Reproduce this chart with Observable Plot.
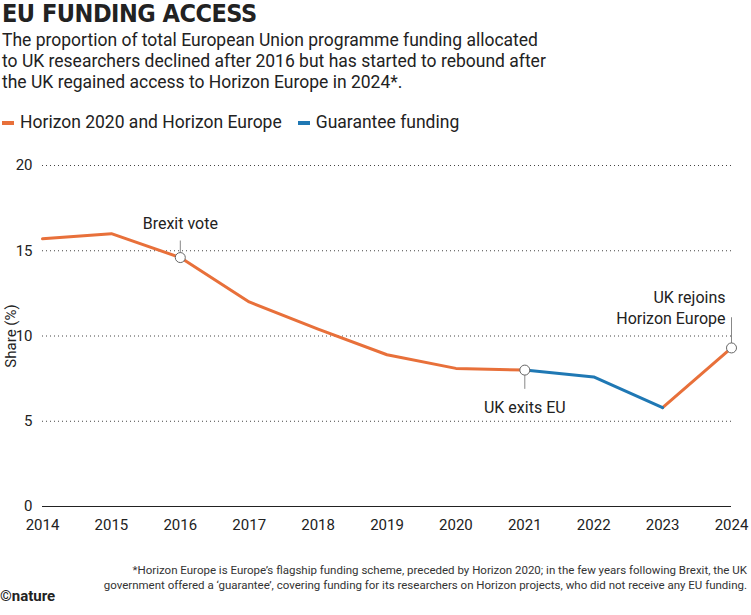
<!DOCTYPE html>
<html><head>
<script src="https://cdn.jsdelivr.net/npm/d3@7"></script>
<script src="https://cdn.jsdelivr.net/npm/@observablehq/plot@0.6"></script>
<style>
body{margin:0;font-family:Roboto,"Noto Sans",sans-serif;color:#222;width:751px;}
h1{font-family:"DejaVu Sans Condensed","Roboto",sans-serif;font-weight:900;font-size:25px;margin:0;padding:0 0 0 2px;letter-spacing:-0.5px;line-height:28px;}
.sub{font-size:17.5px;line-height:21px;margin:2px 0 0 2px;}
.leg{font-size:17.5px;margin:19px 0 0 2px;display:flex;gap:16px;align-items:center;}
.leg span.sw{display:inline-block;width:12px;height:4px;margin-right:6px;vertical-align:middle;}
.foot{font-size:11.5px;text-align:right;line-height:15px;margin:22px 4px 0 0;color:#333;}
.logo{font-size:15px;font-weight:bold;margin:-6px 0 0 0;}
</style></head><body>
<h1>EU FUNDING ACCESS</h1>
<div class="sub">The proportion of total European Union programme funding allocated<br>to UK researchers declined after 2016 but has started to rebound after<br>the UK regained access to Horizon Europe in 2024*.</div>
<div class="leg"><div><span class="sw" style="background:#e8703a"></span>Horizon 2020 and Horizon Europe</div><div><span class="sw" style="background:#1f78b4"></span>Guarantee funding</div></div>
<div id="chart"></div>
<div class="foot">*Horizon Europe is Europe’s flagship funding scheme, preceded by Horizon 2020; in the few years following Brexit, the UK<br>government offered a ‘guarantee’, covering funding for its researchers on Horizon projects, who did not receive any EU funding.</div>
<div class="logo">©nature</div>
<script>
const years=[2014,2015,2016,2017,2018,2019,2020,2021,2022,2023,2024];
const share=[15.7,16.0,14.6,12.0,10.4,8.9,8.1,8.0,7.6,5.8,9.3];
const data=years.map((y,i)=>({year:y,share:share[i]}));
const hor1=data.slice(0,8), guar=data.slice(7,10), hor2=data.slice(9);
const notes=[{year:2016,share:14.6,label:"Brexit vote",ty:16.6,ly:15.6},
 {year:2021,share:8.0,label:"UK exits EU",ty:5.8,ly:6.9},
 {year:2024,share:9.3,label:"UK rejoins\nHorizon Europe",ty:10.7,ly:11.1}];
const chart=Plot.plot({
 width:751,height:409,marginLeft:42,marginRight:20,marginTop:33,marginBottom:35,
 style:{fontSize:"15px",fontFamily:"Roboto,sans-serif",color:"#222"},
 x:{domain:[2014,2024]},
 y:{domain:[0,20]},
 marks:[
  Plot.gridY([5,10,15,20],{strokeDasharray:"1,3",strokeOpacity:1,stroke:"#444"}),
  Plot.ruleY([0],{stroke:"#222",strokeWidth:1.2}),
  Plot.axisY({ticks:[0,5,10,15,20],tickSize:0,label:"Share (%)",labelAnchor:"center",labelArrow:"none",labelOffset:37,fontSize:15,dx:-1}),
  Plot.axisX({ticks:years,tickFormat:d=>String(d),tickSize:0,label:null,fontSize:15,dy:4}),
  Plot.line(hor1,{x:"year",y:"share",stroke:"#e8703a",strokeWidth:3}),
  Plot.line(hor2,{x:"year",y:"share",stroke:"#e8703a",strokeWidth:3}),
  Plot.line(guar,{x:"year",y:"share",stroke:"#1f78b4",strokeWidth:3}),
  Plot.link(notes,{x1:"year",x2:"year",y1:"share",y2:"ly",stroke:"#888"}),
  Plot.dot(notes,{x:"year",y:"share",r:5,fill:"white",stroke:"#666",strokeWidth:1}),
  Plot.text(notes.slice(0,2),{x:"year",y:"ty",text:"label",textAnchor:"middle",fontSize:16,fill:"#222"}),
  Plot.text(notes.slice(2),{x:"year",y:"ty",text:"label",textAnchor:"end",dx:-6,lineAnchor:"bottom",lineHeight:1.3,fontSize:16,fill:"#222"})
 ]
});
document.getElementById("chart").appendChild(chart);
</script>
</body></html>
